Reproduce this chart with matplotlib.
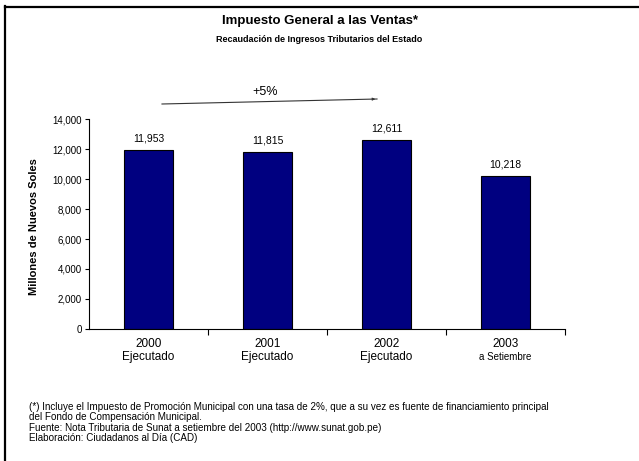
import matplotlib
matplotlib.use("Agg")
import matplotlib.pyplot as plt
from matplotlib.lines import Line2D
import numpy as np

plt.rcParams['font.family'] = ['Liberation Sans', 'DejaVu Sans']

years = ["2000", "2001", "2002", "2003"]
subs = ["Ejecutado", "Ejecutado", "Ejecutado", "a Setiembre"]
values = [11953, 11815, 12611, 10218]
yticks = [0, 2000, 4000, 6000, 8000, 10000, 12000, 14000]

W, H = 639, 461
fig = plt.figure(figsize=(W / 100, H / 100), dpi=100)
fig.patch.set_facecolor("white")

def fx(px):
    return px / W

def fy(py):
    return 1 - py / H

ax = fig.add_axes([fx(89), fy(329), fx(565) - fx(89), fy(119) - fy(329)])
x = np.arange(len(values))
ax.bar(x, values, width=0.42, color="#000080", edgecolor="black", linewidth=0.8)
ax.set_xlim(-0.5, len(values) - 0.5)
ax.set_ylim(0, 14000)
ax.set_yticks(yticks)
ax.set_yticklabels([f"{v:,}" for v in yticks], fontsize=7)
ax.tick_params(axis="y", length=3, width=0.8, pad=2, direction="out")

ax.set_xticks(x)
ax.set_xticklabels([])
ax.tick_params(axis="x", which="major", length=0)
ax.set_xticks(np.arange(0.5, len(values), 1.0), minor=True)
ax.tick_params(axis="x", which="minor", length=4, width=0.8, direction="out")

for s in ["top", "right"]:
    ax.spines[s].set_visible(False)
for s in ["left", "bottom"]:
    ax.spines[s].set_linewidth(0.8)

for xi, (yr, sb) in enumerate(zip(years, subs)):
    ax.annotate(yr, xy=(xi, 0), xycoords=("data", "axes fraction"),
                xytext=(0, -15), textcoords="offset pixels",
                ha="center", va="center", fontsize=8.5)
    ax.annotate(sb, xy=(xi, 0), xycoords=("data", "axes fraction"),
                xytext=(0, -28), textcoords="offset pixels",
                ha="center", va="center",
                fontsize=8.5 if sb == "Ejecutado" else 7)

for xi, v in zip(x, values):
    ax.annotate(f"{v:,}", xy=(xi, v), xytext=(0, 11), textcoords="offset pixels",
                ha="center", va="center", fontsize=7.5)

ax.set_ylabel("Millones de Nuevos Soles", fontsize=8, fontweight="bold")
ax.yaxis.set_label_coords(fx(39), fy(227), transform=fig.transFigure)

fig.text(0.5, fy(21), "Impuesto General a las Ventas*", ha="center", va="center",
         fontsize=9.5, fontweight="bold")
fig.text(0.5, fy(39), "Recaudación de Ingresos Tributarios del Estado", ha="center",
         va="center", fontsize=6.5, fontweight="bold")

fig.text(fx(265), fy(92), "+5%", ha="center", va="center", fontsize=9)
fig.add_artist(Line2D([fx(162), fx(377)], [fy(104), fy(99)], color="#333333", lw=0.8))
fig.patches.append(matplotlib.patches.FancyArrowPatch(
    (fx(371), fy(99.15)), (fx(378), fy(99)), transform=fig.transFigure,
    arrowstyle="-|>", mutation_scale=4, color="#333333", lw=0.6))

notes = [
    "(*) Incluye el Impuesto de Promoción Municipal con una tasa de 2%, que a su vez es fuente de financiamiento principal",
    "del Fondo de Compensación Municipal.",
    "Fuente: Nota Tributaria de Sunat a setiembre del 2003 (http://www.sunat.gob.pe)",
    "Elaboración: Ciudadanos al Día (CAD)",
]
for i, n in enumerate(notes):
    fig.text(fx(29), fy(407 + 10.3 * i), n, ha="left", va="center", fontsize=7.1)

fig.add_artist(Line2D([fx(5), fx(639)], [fy(7), fy(7)], color="black", lw=1.6))
fig.add_artist(Line2D([fx(5), fx(5)], [fy(6.3), fy(461)], color="black", lw=1.6))

fig.savefig("out.png", dpi=100, facecolor="white")
